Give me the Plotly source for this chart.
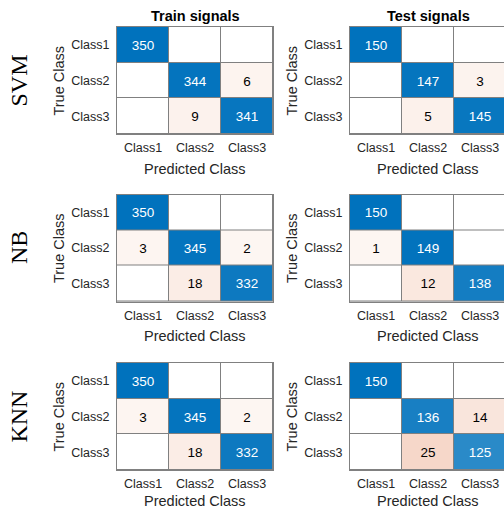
import plotly.graph_objects as go

# Confusion-matrix counts (rows = true class, columns = predicted class)
classes = ["Class1", "Class2", "Class3"]
models = ["SVM", "NB", "KNN"]
set_titles = ["Train signals", "Test signals"]

svm_train = [[350, 0, 0], [0, 344, 6], [0, 9, 341]]
svm_test = [[150, 0, 0], [0, 147, 3], [0, 5, 145]]
nb_train = [[350, 0, 0], [3, 345, 2], [0, 18, 332]]
nb_test = [[150, 0, 0], [1, 149, 0], [0, 12, 138]]
knn_train = [[350, 0, 0], [3, 345, 2], [0, 18, 332]]
knn_test = [[150, 0, 0], [0, 136, 14], [0, 25, 125]]

matrices = [[svm_train, svm_test], [nb_train, nb_test], [knn_train, knn_test]]

W, H = 504, 508
BLUE = (0, 114, 189)
ORANGE = (217, 83, 25)
FONT = "Liberation Sans, Arial, Helvetica, sans-serif"
SERIF = "Liberation Serif, Times New Roman, serif"
LINE = "#808080"
TICK_COLOR = "#262626"


def tint(rgb, t):
    r, g, b = (round(255 + t * (c - 255)) for c in rgb)
    return f"rgb({r},{g},{b})"


diag_scale = [[0.0, "rgb(255,255,255)"], [1.0, tint(BLUE, 1.0)]]
off_scale = [
    [0.0, "rgb(255,255,255)"],
    [0.005, tint(ORANGE, 0.055)],
    [0.2, tint(ORANGE, 0.27)],
    [1.0, tint(ORANGE, 1.0)],
]

# panel geometry in pixels
col_left = [117, 350]
cell_w = 52
row_top = [27, 194.5, 363]
cell_h = 35.7

fig = go.Figure()
annotations = []

for r in range(3):
    for c in range(2):
        k = r * 2 + c + 1
        xa = "x" if k == 1 else f"x{k}"
        ya = "y" if k == 1 else f"y{k}"
        m = matrices[r][c]
        zmax = max(max(row) for row in m)

        diag_z = [[m[i][j] if i == j else None for j in range(3)] for i in range(3)]
        diag_t = [[str(m[i][j]) if i == j and m[i][j] > 0 else "" for j in range(3)] for i in range(3)]
        off_z = [[m[i][j] if i != j else None for j in range(3)] for i in range(3)]
        off_t = [[str(m[i][j]) if i != j and m[i][j] > 0 else "" for j in range(3)] for i in range(3)]

        common = dict(x=[0, 1, 2], y=[0, 1, 2], zmin=0, zmax=zmax, showscale=False,
                      xgap=1, ygap=1, hoverinfo="skip", xaxis=xa, yaxis=ya,
                      texttemplate="%{text}")
        fig.add_trace(go.Heatmap(z=off_z, text=off_t, colorscale=off_scale,
                                 textfont=dict(family=FONT, size=13.5, color="#000000"), **common))
        fig.add_trace(go.Heatmap(z=diag_z, text=diag_t, colorscale=diag_scale,
                                 textfont=dict(family=FONT, size=13.5, color="#ffffff"), **common))

        x0 = col_left[c]
        x1 = min(x0 + 3 * cell_w, W)
        cols_shown = (x1 - x0) / cell_w
        y0 = row_top[r]
        y1 = y0 + 3 * cell_h

        fig.layout[("xaxis" if k == 1 else f"xaxis{k}")] = dict(
            domain=[x0 / W, x1 / W], anchor=ya, range=[-0.5, -0.5 + cols_shown],
            tickvals=[0, 1, 2], ticktext=classes, showgrid=False, zeroline=False,
            showline=True, mirror=True, linecolor=LINE, linewidth=1,
            ticks="outside", ticklen=2, tickcolor="rgba(0,0,0,0)",
            tickfont=dict(family=FONT, size=12.5, color=TICK_COLOR), fixedrange=True)
        fig.layout[("yaxis" if k == 1 else f"yaxis{k}")] = dict(
            domain=[1 - y1 / H, 1 - y0 / H], anchor=xa, range=[2.5, -0.5],
            tickvals=[0, 1, 2], ticktext=classes, showgrid=False, zeroline=False,
            showline=True, mirror=(c == 0), linecolor=LINE, linewidth=1,
            ticks="outside", ticklen=4, tickcolor="rgba(0,0,0,0)",
            tickfont=dict(family=FONT, size=12.5, color=TICK_COLOR), fixedrange=True)

        xc = (x0 + 3 * cell_w / 2) / W
        yc = 1 - (y0 + y1) / 2 / H
        yp = min(y1 + 34.5, H - 7)
        annotations.append(dict(text="Predicted Class", x=xc, y=1 - yp / H,
                                xref="paper", yref="paper", showarrow=False,
                                xanchor="center", yanchor="middle",
                                font=dict(family=FONT, size=14.5, color=TICK_COLOR)))
        annotations.append(dict(text="True Class", x=(x0 - 58) / W, y=yc, textangle=-90,
                                xref="paper", yref="paper", showarrow=False,
                                xanchor="center", yanchor="middle",
                                font=dict(family=FONT, size=14.5, color=TICK_COLOR)))
        if r == 0:
            annotations.append(dict(text=f"<b>{set_titles[c]}</b>", x=xc, y=1 - 16 / H,
                                    xref="paper", yref="paper", showarrow=False,
                                    xanchor="center", yanchor="middle",
                                    font=dict(family=FONT, size=14.5, color="#000000")))
        if c == 0:
            annotations.append(dict(text=models[r], x=19 / W, y=yc, textangle=-90,
                                    xref="paper", yref="paper", showarrow=False,
                                    xanchor="center", yanchor="middle",
                                    font=dict(family=SERIF, size=24, color="#000000")))

fig.update_layout(width=W, height=H, margin=dict(l=0, r=0, t=0, b=0),
                  paper_bgcolor="white", plot_bgcolor=LINE,
                  annotations=annotations, showlegend=False)

fig.write_html("out.html", config={"displayModeBar": False})
